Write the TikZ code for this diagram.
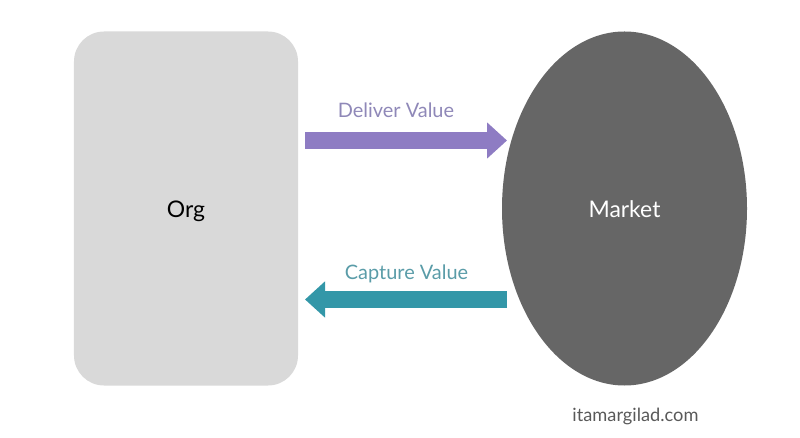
\documentclass[tikz,border=0pt]{standalone}
\usepackage{fontspec}
\setmainfont{Lato}
\usetikzlibrary{shapes.geometric,arrows.meta}
\definecolor{orggray}{HTML}{D9D9D9}
\definecolor{marketgray}{HTML}{666666}
\definecolor{deliverpurple}{HTML}{8E7CC3}
\definecolor{captureteal}{HTML}{3397A8}
\definecolor{delivertext}{HTML}{8F88B8}
\definecolor{capturetext}{HTML}{5A9CA8}
\definecolor{sitegray}{HTML}{595959}
\tikzset{
  flowarrow/.style={line width=17bp,-{Triangle[length=20bp,width=35bp]}},
  flowlabel/.style={font=\fontsize{20}{24}\selectfont,inner sep=0pt},
  boxlabel/.style={font=\fontsize{23}{28}\selectfont,inner sep=0pt}
}
\begin{document}
\begin{tikzpicture}[x=1bp,y=-1bp]
\useasboundingbox (0,0) rectangle (800,438);
\node[fill=orggray,rounded corners=30bp,minimum width=224bp,minimum height=354bp,inner sep=0pt] (org) at (186,208.5) {};
\node[ellipse,fill=marketgray,minimum width=245bp,minimum height=354bp,inner sep=0pt] (market) at (624.5,208.5) {};
\node[boxlabel] (orglabel) at (186,211) {Org};
\node[boxlabel,text=white] (marketlabel) at (624.5,209.5) {Market};
\coordinate (deliverstart) at (305,140.5);
\coordinate (deliverend) at (507,140.5);
\coordinate (capturestart) at (507,299.5);
\coordinate (captureend) at (305,299.5);
\draw[flowarrow,draw=deliverpurple,fill=deliverpurple] (deliverstart) -- (deliverend);
\draw[flowarrow,draw=captureteal,fill=captureteal] (capturestart) -- (captureend);
\node[flowlabel,text=delivertext] (deliverlabel) at (396,110.5) {Deliver Value};
\node[flowlabel,text=capturetext] (capturelabel) at (406.5,274) {Capture Value};
\node[font=\fontsize{18.3}{22}\selectfont,text=sitegray,inner sep=0pt] (site) at (635.5,416) {itamargilad.com};
\end{tikzpicture}
\end{document}
